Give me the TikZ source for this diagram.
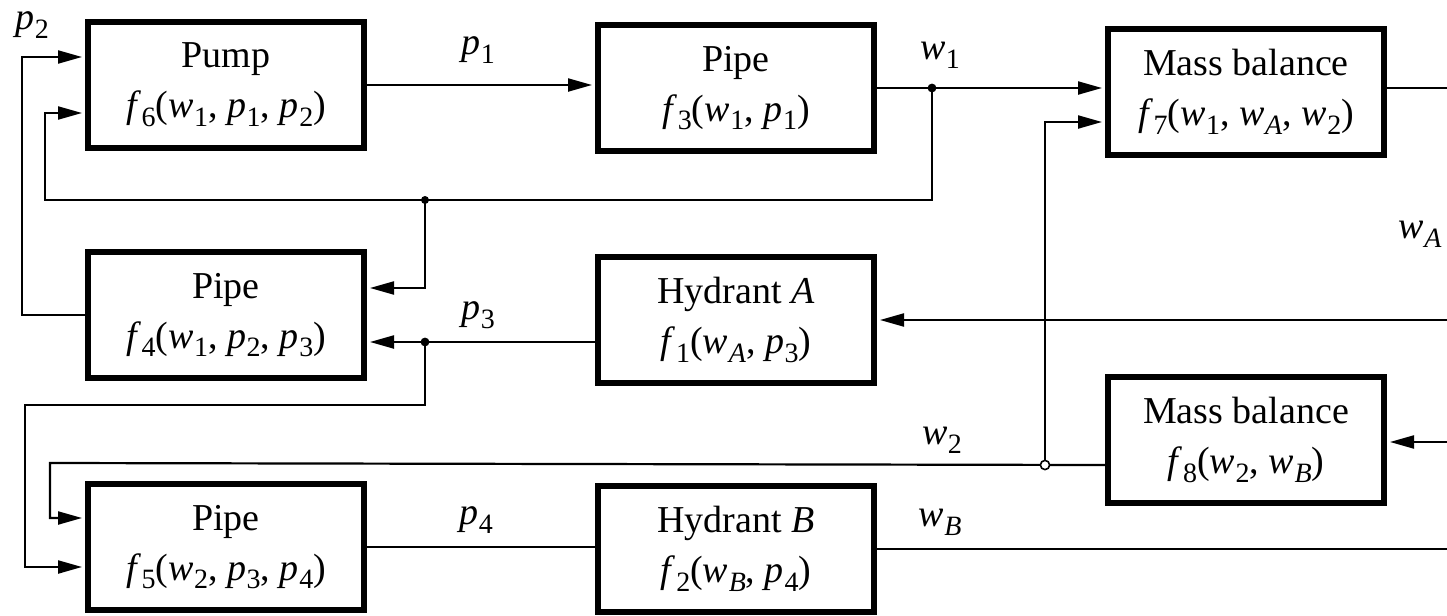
\documentclass[tikz,border=0pt]{standalone}
\usepackage{fontspec}
\setmainfont{Liberation Serif}
\usetikzlibrary{arrows.meta,calc}
\newcommand\fsz{\fontsize{19}{25}\selectfont}
\newcommand\vsub[2]{\textit{#1}\kern0.3pt\raisebox{-0.5ex}{\fontsize{14}{14}\selectfont #2}}
\begin{document}
\begin{tikzpicture}[x=0.5pt,y=-0.5pt,
  box/.style={draw, line width=3pt, minimum width=138pt, minimum height=63pt, inner sep=0pt, align=center, font=\fsz},
  conn/.style={line width=1.1pt},
  arr/.style={-{Triangle[length=12pt,width=6.5pt]}, shorten >=1.5pt},
  lbl/.style={font=\fsz, inner sep=0pt}]
\useasboundingbox (0,0) rectangle (1447,616);

% boxes
\node[box] (f6) at (226,85)  {Pump\\\vsub{f}{6}(\vsub{w}{1}, \vsub{p}{1}, \vsub{p}{2})};
\node[box] (f3) at (736,88)  {Pipe\\\vsub{f}{3}(\vsub{w}{1}, \vsub{p}{1})};
\node[box] (f7) at (1246,92) {Mass balance\\\vsub{f}{7}(\vsub{w}{1}, \vsub{w}{\textit{A}}, \vsub{w}{2})};
\node[box] (f4) at (226,315) {Pipe\\\vsub{f}{4}(\vsub{w}{1}, \vsub{p}{2}, \vsub{p}{3})};
\node[box] (f1) at (736,320) {Hydrant \textit{A}\\\vsub{f}{1}(\vsub{w}{\textit{A}}, \vsub{p}{3})};
\node[box] (f8) at (1246,440) {Mass balance\\\vsub{f}{8}(\vsub{w}{2}, \vsub{w}{\textit{B}})};
\node[box] (f5) at (226,547) {Pipe\\\vsub{f}{5}(\vsub{w}{2}, \vsub{p}{3}, \vsub{p}{4})};
\node[box] (f2) at (736,549) {Hydrant \textit{B}\\\vsub{f}{2}(\vsub{w}{\textit{B}}, \vsub{p}{4})};

% coordinates
\coordinate (j1) at (932,88);
\coordinate (j2) at (425,200);
\coordinate (j3) at (425,342);
\coordinate (j4) at (1045,465);
\coordinate (c1) at (45,200);
\coordinate (c2) at (22,57);
\coordinate (c3) at (25,405);
\coordinate (c4) at (50,463);
\coordinate (e1) at (1447,88);
\coordinate (e2) at (1447,320);
\coordinate (e3) at (1447,442);
\coordinate (e4) at (1447,549);
\coordinate (f6in1) at ($(f6.west)+(0,-28)$);
\coordinate (f6in2) at ($(f6.west)+(0,28)$);
\coordinate (f4in1) at ($(f4.east)+(0,-27)$);
\coordinate (f7in2) at ($(f7.west)+(0,30)$);
\coordinate (f5in1) at ($(f5.west)+(0,-29)$);
\coordinate (f5in2) at ($(f5.west)+(0,20)$);

% connectors
\draw[conn,arr] (f6.east) -- (f6.east -| f3.west);
\draw[conn,arr] (f3.east |- j1) -- (j1 -| f7.west);
\draw[conn,arr] (j1) -- (j1 |- c1) -- (c1) |- (f6in2);
\draw[conn,arr] (j2) |- (f4in1);
\draw[conn,arr] (f4.west) -| (c2) -- (f6in1);
\draw[conn,arr] (f1.west |- j3) -- (j3 -| f4.east);
\draw[conn,arr] (j3) |- (c3) |- (f5in2);
\draw[conn,arr] (f8.west |- j4) -- (c4) |- (f5in1);
\draw[conn,arr] (j4) |- (f7in2);
\draw[conn] (f7.east |- e1) -- (e1);
\draw[conn,arr] (e2) -- (e2 -| f1.east);
\draw[conn,arr] (e3) -- (e3 -| f8.east);
\draw[conn] (f5.east) -- (f5.east -| f2.west);
\draw[conn] (f2.east |- e4) -- (e4);

% junction dots
\fill (j1) circle (2.2pt);
\fill (j2) circle (2pt);
\fill (j3) circle (2.2pt);
\filldraw[line width=0.8pt, fill=white] (j4) circle (2.3pt);

% labels
\node[lbl] (lp2) at (32,25)  {\vsub{p}{2}};
\node[lbl] (lp1) at (478,50) {\vsub{p}{1}};
\node[lbl] (lw1) at (940,55) {\vsub{w}{1}};
\node[lbl] (lwA) at (1420,234) {\vsub{w}{\textit{A}}};
\node[lbl] (lp3) at (478,315) {\vsub{p}{3}};
\node[lbl] (lw2) at (942,440) {\vsub{w}{2}};
\node[lbl] (lp4) at (476,520) {\vsub{p}{4}};
\node[lbl] (lwB) at (940,522) {\vsub{w}{\textit{B}}};
\end{tikzpicture}
\end{document}
